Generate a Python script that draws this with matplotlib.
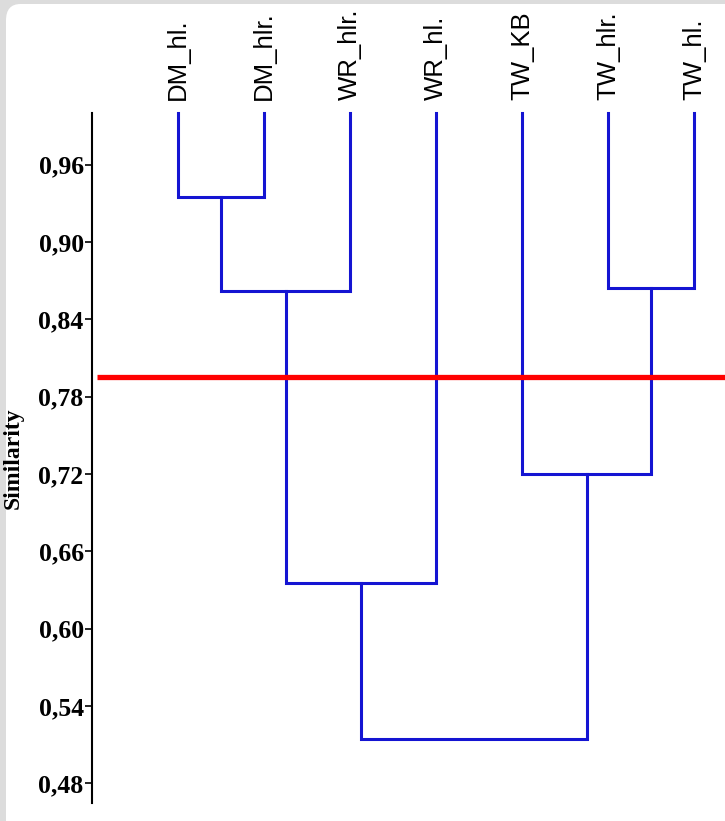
import matplotlib
matplotlib.use('Agg')
import matplotlib.pyplot as plt
from matplotlib.patches import FancyBboxPatch

leaves = ['DM_hl.', 'DM_hlr.', 'WR_hlr.', 'WR_hl.', 'TW_KB', 'TW_hlr.', 'TW_hl.']
# merges: (child a, child b, similarity); new node ids continue after the leaves
merges = [(0, 1, 0.935), (7, 2, 0.862), (5, 6, 0.864),
          (8, 3, 0.635), (4, 9, 0.720), (10, 11, 0.514)]
cut_level = 0.795
yticks = [0.48, 0.54, 0.60, 0.66, 0.72, 0.78, 0.84, 0.90, 0.96]
ytick_labels = ['0,48', '0,54', '0,60', '0,66', '0,72', '0,78', '0,84', '0,90', '0,96']

W, H = 725, 821
fig = plt.figure(figsize=(W / 100, H / 100), dpi=100, facecolor='#dcdcdc')
bg = FancyBboxPatch((6 / W, -0.05), 1.2, 1.05 - 4 / H,
                    boxstyle='round,pad=0,rounding_size=0.02',
                    transform=fig.transFigure, facecolor='white',
                    edgecolor='none', zorder=-1)
fig.patches.append(bg)

ax = fig.add_axes([92 / W, 18 / H, (W - 92) / W, 690 / H])
ax.set_facecolor('none')
top = 1.0
ax.set_xlim(0, (W - 92) / 86)
ax.set_ylim(0.4647, top)

xpos = {i: i + 1 for i in range(len(leaves))}
ypos = {i: top for i in range(len(leaves))}
blue = '#1414d2'
for k, (a, b, s) in enumerate(merges):
    node = len(leaves) + k
    ax.plot([xpos[a], xpos[a], xpos[b], xpos[b]], [ypos[a], s, s, ypos[b]],
            color=blue, lw=2.2, solid_joinstyle='miter', clip_on=False)
    xpos[node] = (xpos[a] + xpos[b]) / 2
    ypos[node] = s

for i, name in enumerate(leaves):
    ax.annotate(name, (xpos[i], top), xytext=(0, 9), textcoords='offset points',
                rotation=90, ha='center', va='bottom', fontsize=18.5,
                family='Liberation Sans', annotation_clip=False)

ax.plot([0.06, ax.get_xlim()[1]], [cut_level, cut_level], color='#ff0000',
        lw=3.8, solid_capstyle='butt', clip_on=False, zorder=5)

for sp in ['top', 'right', 'bottom']:
    ax.spines[sp].set_visible(False)
ax.spines['left'].set_linewidth(1.5)
ax.set_xticks([])
ax.set_yticks(yticks)
ax.set_yticklabels(ytick_labels, family='Liberation Serif', fontweight='bold', fontsize=18.5)
ax.tick_params(axis='y', length=5, width=1.2, pad=1)
ax.set_ylabel('Similarity', family='Liberation Serif', fontweight='bold', fontsize=17)
ax.yaxis.set_label_coords(-68 / (W - 92), 0.5)

fig.savefig('out.png', dpi=100, facecolor=fig.get_facecolor())
